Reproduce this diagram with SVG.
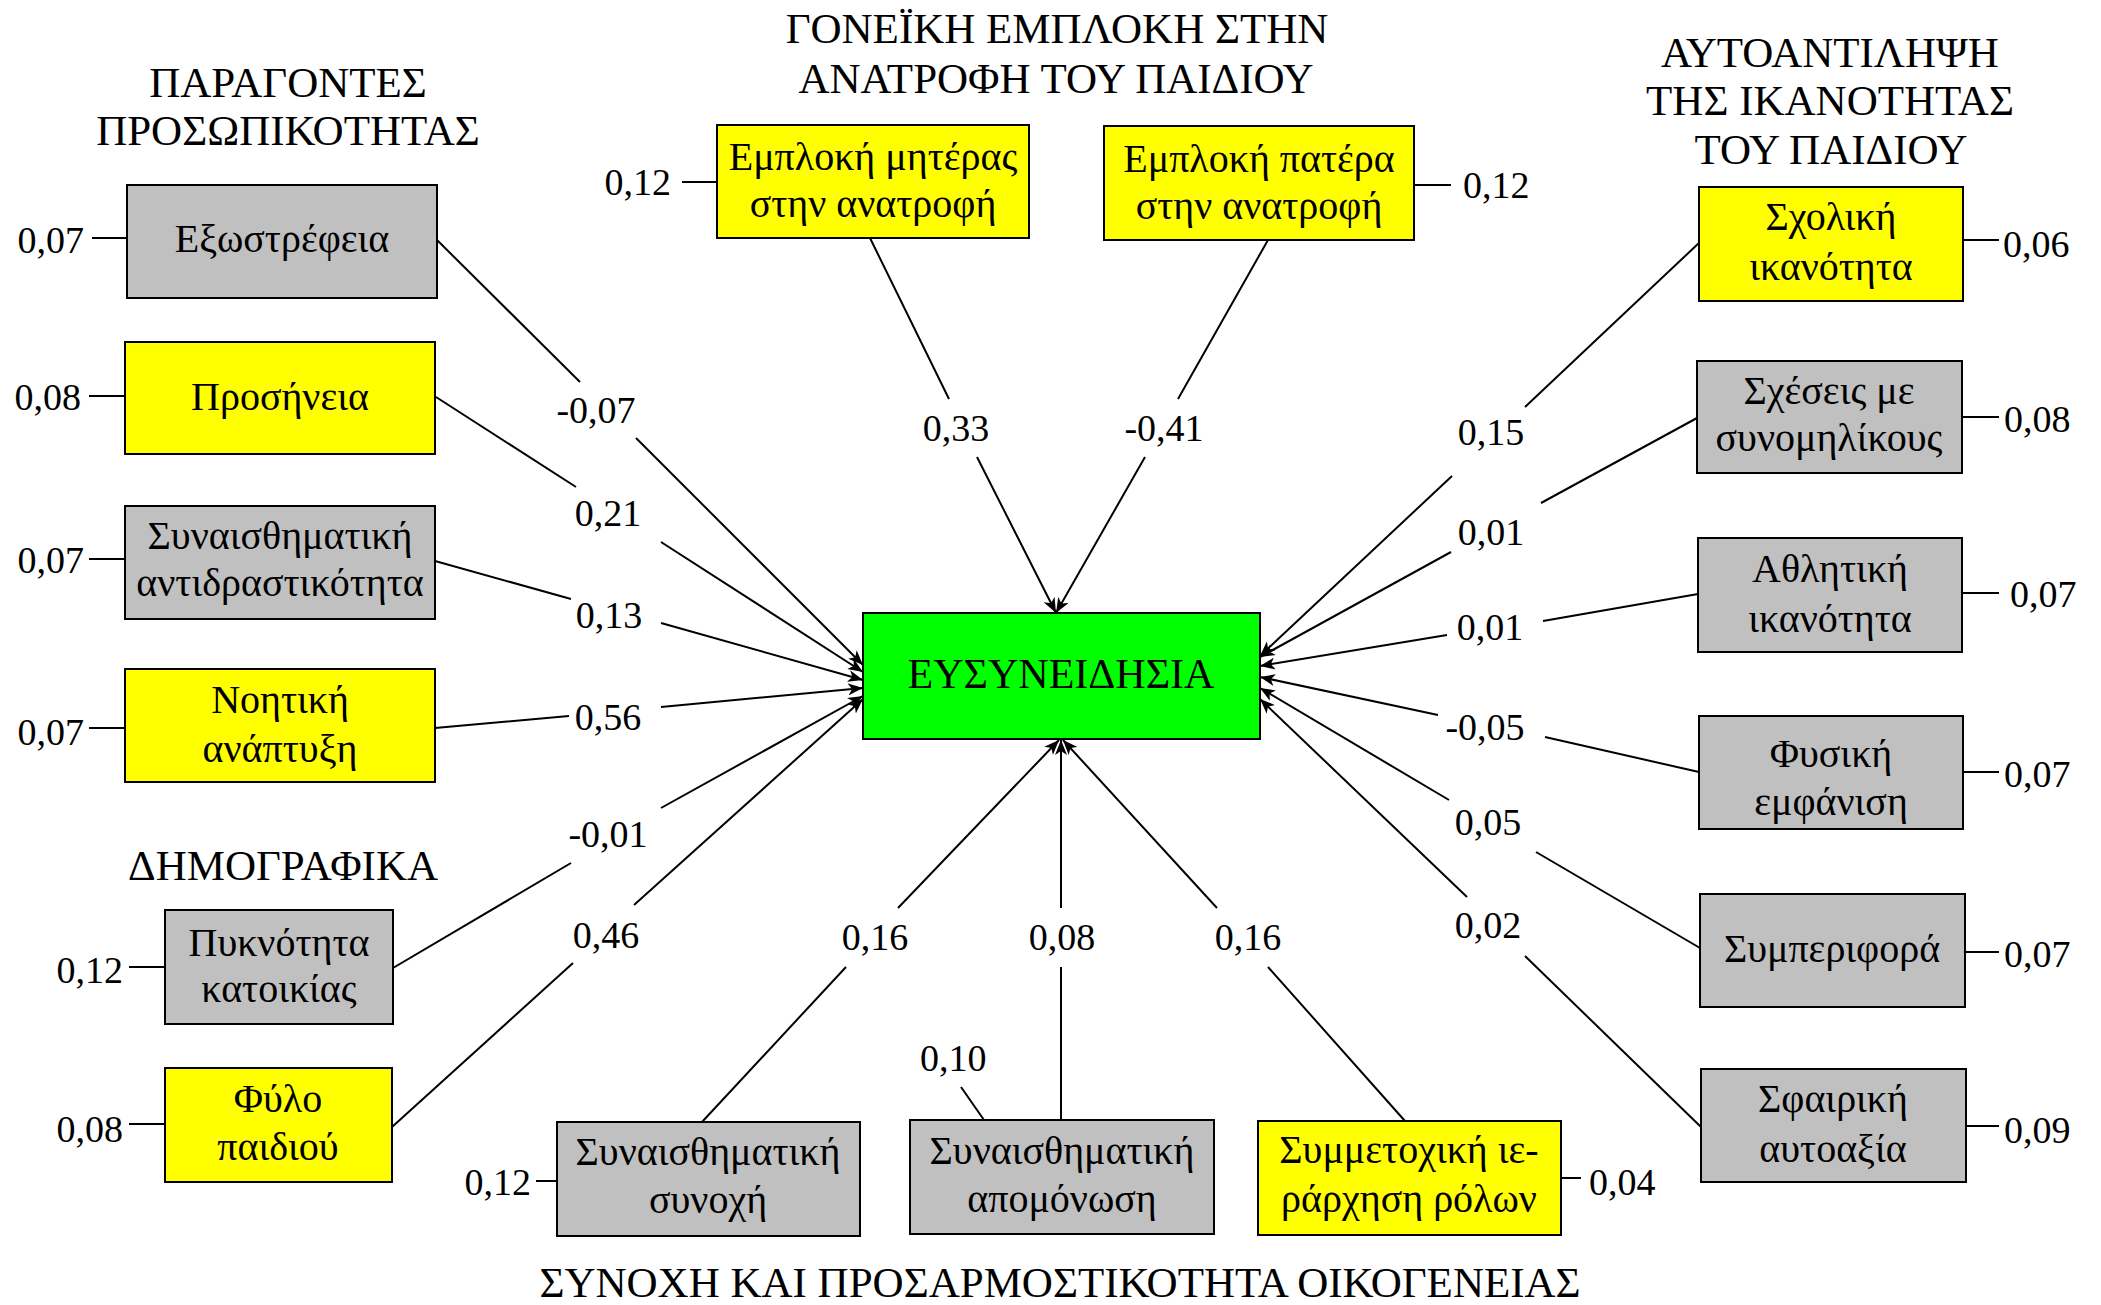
<svg xmlns="http://www.w3.org/2000/svg" width="2101" height="1305" viewBox="0 0 2101 1305">
<style>
text{font-family:"Liberation Serif","Times New Roman","DejaVu Serif",serif;fill:#000}
.t{font-size:40px;text-anchor:middle}
.h{font-size:43px;text-anchor:middle}
.c{font-size:42px;text-anchor:middle}
.n{font-size:38px}
.e{text-anchor:end}
.m{text-anchor:middle}
.g{fill:#C0C0C0;stroke:#000;stroke-width:2}
.y{fill:#FFFF00;stroke:#000;stroke-width:2}
.gr{fill:#00FF00;stroke:#000;stroke-width:2}
.ln{stroke:#000;stroke-width:2;fill:none}
.ar{stroke:#000;stroke-width:2;fill:none;marker-end:url(#arr)}
</style>
<defs>
<marker id="arr" markerUnits="userSpaceOnUse" markerWidth="16" markerHeight="12" refX="15" refY="6" orient="auto">
<path d="M0,0 L15,6 L0,12 L4,6 Z" fill="#000"/>
</marker>
</defs>
<rect width="2101" height="1305" fill="#fff"/>

<g id="titles">
<text class="h" x="288" y="97">ΠΑΡΑΓΟΝΤΕΣ</text>
<text class="h" x="288" y="145">ΠΡΟΣΩΠΙΚΟΤΗΤΑΣ</text>
<text class="h" x="1057" y="43">ΓΟΝΕΪΚΗ ΕΜΠΛΟΚΗ ΣΤΗΝ</text>
<text class="h" x="1056" y="93">ΑΝΑΤΡΟΦΗ ΤΟΥ ΠΑΙΔΙΟΥ</text>
<text class="h" x="1830" y="67">ΑΥΤΟΑΝΤΙΛΗΨΗ</text>
<text class="h" x="1830" y="115">ΤΗΣ ΙΚΑΝΟΤΗΤΑΣ</text>
<text class="h" x="1831" y="164">ΤΟΥ ΠΑΙΔΙΟΥ</text>
<text class="h" x="283" y="880">ΔΗΜΟΓΡΑΦΙΚΑ</text>
<text class="h" x="1060" y="1297">ΣΥΝΟΧΗ ΚΑΙ ΠΡΟΣΑΡΜΟΣΤΙΚΟΤΗΤΑ ΟΙΚΟΓΕΝΕΙΑΣ</text>
</g>

<g id="connectors">
<path class="ar" d="M437,240 L580,382 M636,438 L863,665"/>
<path class="ar" d="M436,397 L576,487 M661,542 L863,672"/>
<path class="ar" d="M435,561 L571,599 M661,623 L863,680"/>
<path class="ar" d="M435,728 L569,716 M661,707 L863,688"/>
<path class="ar" d="M393,968 L571,863 M661,808 L863,696"/>
<path class="ar" d="M392,1127 L573,963 M634,905 L863,699"/>
<path class="ar" d="M870,238 L949,399 M977,457 L1056,613"/>
<path class="ar" d="M1268,240 L1178,399 M1145,457 L1056,613"/>
<path class="ar" d="M702,1122 L846,967 M898,908 L1059,740"/>
<path class="ar" d="M1061,1120 L1061,967 M1061,908 L1061,740"/>
<path class="ar" d="M1405,1121 L1268,967 M1217,908 L1063,740"/>
<path class="ar" d="M1700,242 L1525,407 M1452,476 L1260,656"/>
<path class="ar" d="M1697,418 L1541,503 M1451,552 L1260,657"/>
<path class="ar" d="M1698,594 L1543,621 M1447,635 L1260,666"/>
<path class="ar" d="M1699,772 L1545,737 M1438,715 L1260,677"/>
<path class="ar" d="M1700,948 L1536,852 M1449,800 L1260,688"/>
<path class="ar" d="M1701,1127 L1525,956 M1467,897 L1260,699"/>
<path class="ln" d="M92,238 L127,238 M89,396 L125,396 M89,559 L125,559 M89,728 L125,728 M129,967 L165,967 M129,1124 L165,1124 M682,182 L717,182 M1414,185 L1451,185 M1963,240 L1999,240 M1962,417 L1999,417 M1962,593 L1999,593 M1963,772 L1999,772 M1965,952 L1999,952 M1966,1126 L1999,1126 M536,1181 L557,1181 M961,1087 L984,1120 M1561,1178 L1581,1178"/>
</g>

<g id="edge-labels" class="n">
<text class="m" x="596" y="423">-0,07</text>
<text class="m" x="608" y="526">0,21</text>
<text class="m" x="609" y="628">0,13</text>
<text class="m" x="608" y="730">0,56</text>
<text class="m" x="608" y="847">-0,01</text>
<text class="m" x="606" y="948">0,46</text>
<text class="m" x="956" y="441">0,33</text>
<text class="m" x="1164" y="441">-0,41</text>
<text class="m" x="875" y="950">0,16</text>
<text class="m" x="1062" y="950">0,08</text>
<text class="m" x="1248" y="950">0,16</text>
<text class="m" x="1491" y="445">0,15</text>
<text class="m" x="1491" y="545">0,01</text>
<text class="m" x="1490" y="640">0,01</text>
<text class="m" x="1485" y="740">-0,05</text>
<text class="m" x="1488" y="835">0,05</text>
<text class="m" x="1488" y="938">0,02</text>
</g>

<g id="error-labels" class="n">
<text class="e" x="84" y="253">0,07</text>
<text class="e" x="81" y="410">0,08</text>
<text class="e" x="84" y="573">0,07</text>
<text class="e" x="84" y="745">0,07</text>
<text class="e" x="123" y="983">0,12</text>
<text class="e" x="123" y="1142">0,08</text>
<text class="e" x="671" y="195">0,12</text>
<text x="1463" y="198">0,12</text>
<text x="2003" y="257">0,06</text>
<text x="2004" y="432">0,08</text>
<text x="2010" y="607">0,07</text>
<text x="2004" y="787">0,07</text>
<text x="2004" y="967">0,07</text>
<text x="2004" y="1143">0,09</text>
<text class="e" x="531" y="1195">0,12</text>
<text x="920" y="1071">0,10</text>
<text x="1589" y="1195">0,04</text>
</g>

<g id="n-eusyneidisia"><rect class="gr" x="863" y="613" width="397" height="126"/><text class="c" x="1061" y="688">ΕΥΣΥΝΕΙΔΗΣΙΑ</text></g>

<g id="n-exostrefeia"><rect class="g" x="127" y="185" width="310" height="113"/><text class="t" x="282" y="252">Εξωστρέφεια</text></g>
<g id="n-prosineia"><rect class="y" x="125" y="342" width="310" height="112"/><text class="t" x="280" y="410">Προσήνεια</text></g>
<g id="n-antidrastikotita"><rect class="g" x="125" y="506" width="310" height="113"/><text class="t" x="280" y="549">Συναισθηματική</text><text class="t" x="280" y="596">αντιδραστικότητα</text></g>
<g id="n-noitiki"><rect class="y" x="125" y="669" width="310" height="113"/><text class="t" x="280" y="713">Νοητική</text><text class="t" x="280" y="762">ανάπτυξη</text></g>
<g id="n-pyknotita"><rect class="g" x="165" y="910" width="228" height="114"/><text class="t" x="279" y="956">Πυκνότητα</text><text class="t" x="279" y="1002">κατοικίας</text></g>
<g id="n-fylo"><rect class="y" x="165" y="1068" width="227" height="114"/><text class="t" x="278" y="1112">Φύλο</text><text class="t" x="278" y="1160">παιδιού</text></g>

<g id="n-mitera"><rect class="y" x="717" y="125" width="312" height="113"/><text class="t" x="873" y="170">Εμπλοκή μητέρας</text><text class="t" x="873" y="217">στην ανατροφή</text></g>
<g id="n-pateras"><rect class="y" x="1104" y="126" width="310" height="114"/><text class="t" x="1259" y="172">Εμπλοκή πατέρα</text><text class="t" x="1259" y="219">στην ανατροφή</text></g>

<g id="n-sxoliki"><rect class="y" x="1699" y="187" width="264" height="114"/><text class="t" x="1831" y="230">Σχολική</text><text class="t" x="1831" y="280">ικανότητα</text></g>
<g id="n-sxeseis"><rect class="g" x="1697" y="361" width="265" height="112"/><text class="t" x="1829" y="404">Σχέσεις με</text><text class="t" x="1829" y="451">συνομηλίκους</text></g>
<g id="n-athlitiki"><rect class="g" x="1698" y="538" width="264" height="114"/><text class="t" x="1830" y="582">Αθλητική</text><text class="t" x="1830" y="632">ικανότητα</text></g>
<g id="n-fysiki"><rect class="g" x="1699" y="716" width="264" height="113"/><text class="t" x="1831" y="767">Φυσική</text><text class="t" x="1831" y="815">εμφάνιση</text></g>
<g id="n-symperifora"><rect class="g" x="1700" y="894" width="265" height="113"/><text class="t" x="1832" y="962">Συμπεριφορά</text></g>
<g id="n-sfairiki"><rect class="g" x="1701" y="1069" width="265" height="113"/><text class="t" x="1833" y="1112">Σφαιρική</text><text class="t" x="1833" y="1162">αυτοαξία</text></g>

<g id="n-synoxi"><rect class="g" x="557" y="1122" width="303" height="114"/><text class="t" x="708" y="1165">Συναισθηματική</text><text class="t" x="708" y="1213">συνοχή</text></g>
<g id="n-apomonosi"><rect class="g" x="910" y="1120" width="304" height="114"/><text class="t" x="1062" y="1164">Συναισθηματική</text><text class="t" x="1062" y="1212">απομόνωση</text></g>
<g id="n-symmetoxiki"><rect class="y" x="1258" y="1121" width="303" height="114"/><text class="t" x="1409" y="1163">Συμμετοχική ιε-</text><text class="t" x="1409" y="1212">ράρχηση ρόλων</text></g>
</svg>
